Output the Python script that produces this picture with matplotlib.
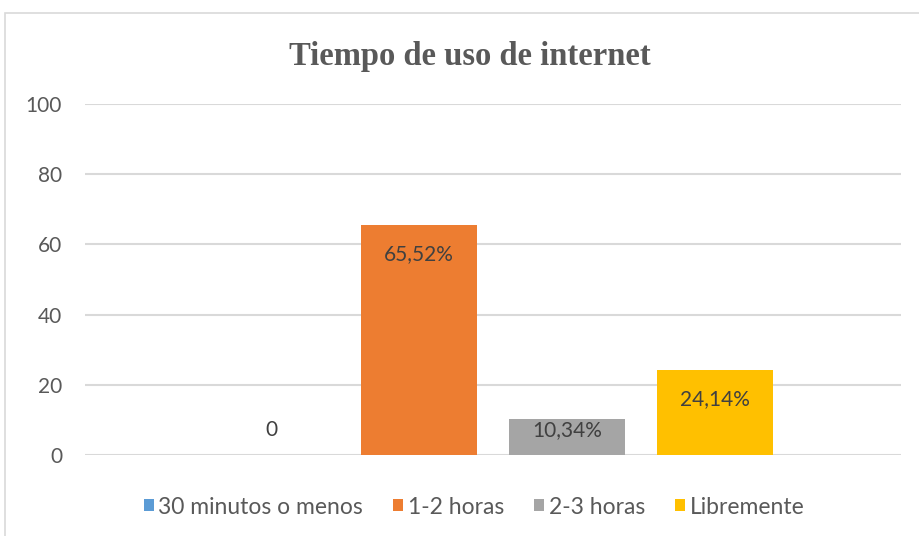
import matplotlib
matplotlib.use("Agg")
import matplotlib.pyplot as plt
from matplotlib.patches import Patch, Rectangle

series = ["30 minutos o menos", "1-2 horas", "2-3 horas", "Libremente"]
values = [0, 65.52, 10.34, 24.14]
labels = ["0", "65,52%", "10,34%", "24,14%"]
colors = ["#5b9bd5", "#ed7d31", "#a5a5a5", "#ffc000"]
yticks = [0, 20, 40, 60, 80, 100]
title = "Tiempo de uso de internet"

W, H = 919, 536
fig = plt.figure(figsize=(W / 100, H / 100), dpi=100)
fig.patch.set_facecolor("white")

# chart frame (cropped on right/bottom)
fig.add_artist(Rectangle((5 / W, -0.1), 1.2, 1 - 13 / H + 0.1, transform=fig.transFigure,
                         fill=False, edgecolor="#d9d9d9", linewidth=1.2))

left, right = 85, 901
top, bottom = 104, 455
ax = fig.add_axes([left / W, 1 - bottom / H, (right - left) / W, (bottom - top) / H])

font = "Lato"
txt_color = "#595959"
lbl_color = "#404040"
fs = 15

x = list(range(len(values)))
ax.bar(x, values, width=0.79, color=colors, zorder=3)
ax.set_xlim(-1.257, 4.257)
ax.set_ylim(0, 100)
ax.set_yticks(yticks)
ax.set_yticklabels([str(t) for t in yticks], fontfamily=font, fontsize=fs, color=txt_color)
ax.tick_params(axis="y", length=0, pad=16.5)
ax.set_xticks([])
for s in ax.spines.values():
    s.set_visible(False)
ax.grid(axis="y", color="#d9d9d9", linewidth=1.5, zorder=0)
ax.set_axisbelow(True)

for xi, v, lab in zip(x, values, labels):
    ly = max(v - 8.2, 7.1)
    ax.text(xi, ly, lab, ha="center", va="center", fontfamily=font, fontsize=fs,
            color=lbl_color, zorder=4)

fig.text(470 / W, 1 - 56 / H, title, ha="center", va="center",
         fontfamily="Liberation Serif", fontweight="bold", fontsize=23.5, color=txt_color)

handles = [Patch(facecolor=c, edgecolor="none") for c in colors]
leg = fig.legend(handles, series, loc="center", bbox_to_anchor=(474 / W, 1 - 507 / H),
                 ncol=4, frameon=False, handlelength=0.45, handleheight=0.45,
                 handletextpad=0.2, columnspacing=1.3,
                 prop={"family": font, "size": 16.5})
for t in leg.get_texts():
    t.set_color(txt_color)

fig.savefig("out.png", dpi=100, facecolor="white")
